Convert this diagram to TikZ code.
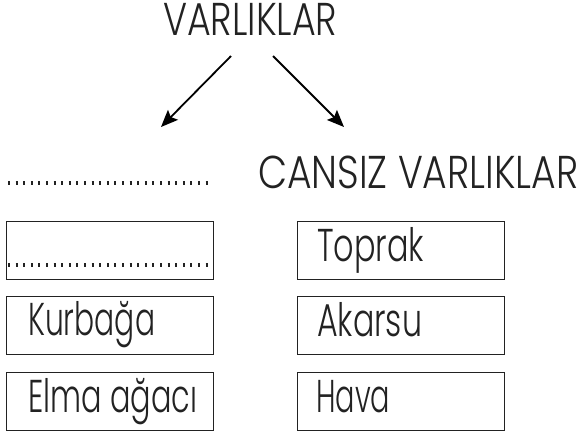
\documentclass[tikz,border=0pt]{standalone}
\usepackage{fontspec}
\IfFontExistsTF{Poppins Light}{\setmainfont{Poppins Light}}{\setmainfont{Poppins}}
\usepackage{graphicx}
\usetikzlibrary{arrows.meta}
\definecolor{ink}{HTML}{222222}
\newcommand\fitw[2]{\resizebox{#1pt}{\height}{#2}}
\begin{document}
\begin{tikzpicture}[x=1pt,y=-1pt,
  lbl/.style={inner sep=0pt, anchor=base west, text=ink, font=\fontsize{46}{46}\selectfont},
  cell/.style={draw=ink, line width=1.2pt, minimum width=207pt, minimum height=58pt, inner sep=0pt, anchor=north west},
  dotline/.style={draw=ink, line width=4pt, dash pattern=on 2pt off 5.6pt},
  arr/.style={line width=1.8pt, -{Stealth[length=17pt,width=14pt,inset=3pt]}}]
\useasboundingbox (0,0) rectangle (581,437);
% title
\node[lbl] (top) at (163,35) {\fitw{174}{VARLIKLAR}};
\coordinate (ls) at (231,56);
\coordinate (le) at (161,127);
\coordinate (rs) at (273,56);
\coordinate (re) at (344,127);
\draw[arr] (ls) -- (le);
\draw[arr] (rs) -- (re);
% headings
\coordinate (d1a) at (8,183);
\coordinate (d1b) at (213,183);
\draw[dotline] (d1a) -- (d1b);
\node[lbl] (cans) at (258,188) {\fitw{320}{CANSIZ VARLIKLAR}};
% left boxes
\node[cell] (b1) at (6,221) {};
\node[cell] (b2) at (6,296) {};
\node[cell] (b3) at (6,372) {};
\coordinate (d2a) at (8,265);
\coordinate (d2b) at (213,265);
\draw[dotline] (d2a) -- (d2b);
\node[lbl] (t2) at (28,335) {\fitw{127}{Kurbağa}};
\node[lbl] (t3) at (28,412) {\fitw{169}{Elma ağacı}};
% right boxes
\node[cell] (c1) at (297,221) {};
\node[cell] (c2) at (297,296) {};
\node[cell] (c3) at (297,372) {};
\node[lbl] (u1) at (317,261) {\fitw{107}{Toprak}};
\node[lbl] (u2) at (317,336) {\fitw{105}{Akarsu}};
\node[lbl] (u3) at (316,412) {\fitw{74}{Hava}};
\end{tikzpicture}
\end{document}
